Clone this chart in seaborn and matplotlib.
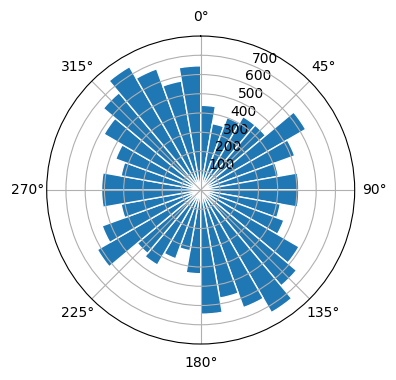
import numpy as np
import matplotlib
matplotlib.use("Agg")
import matplotlib.pyplot as plt
import seaborn as sns
import pandas as pd

# Direction bins (degrees, left edge of each 10-degree sector, clockwise from north)
bin_start_deg = [0, 10, 20, 30, 40, 50, 60, 70, 80,
                 90, 100, 110, 120, 130, 140, 150, 160, 170,
                 180, 190, 200, 210, 220, 230, 240, 250, 260,
                 270, 280, 290, 300, 310, 320, 330, 340, 350]
counts = [440, 350, 400, 440, 440, 630, 520, 410, 510,
          510, 420, 460, 590, 650, 735, 650, 570, 645,
          435, 320, 380, 450, 430, 620, 545, 420, 515,
          515, 420, 470, 580, 660, 740, 670, 575, 645]
bin_width_deg = 10
r_ticks = [100, 200, 300, 400, 500, 600, 700]

df = pd.DataFrame({"theta": np.deg2rad(bin_start_deg), "count": counts})

sns.set_style("white")
plt.rcParams.update(matplotlib.rcParamsDefault)
color = sns.color_palette("tab10")[0]

fig = plt.figure(figsize=(3.96, 3.80), dpi=100)
ax = fig.add_axes([0.1179, 0.0947, 0.7778, 0.8105], projection="polar")
ax.set_theta_zero_location("N")
ax.set_theta_direction(-1)
ax.bar(df["theta"], df["count"], width=np.deg2rad(bin_width_deg), align="edge",
       color=color, edgecolor="white", linewidth=1)
ax.set_rmax(800)
ax.set_rticks(r_ticks)
fig.savefig("out.png", dpi=100)
